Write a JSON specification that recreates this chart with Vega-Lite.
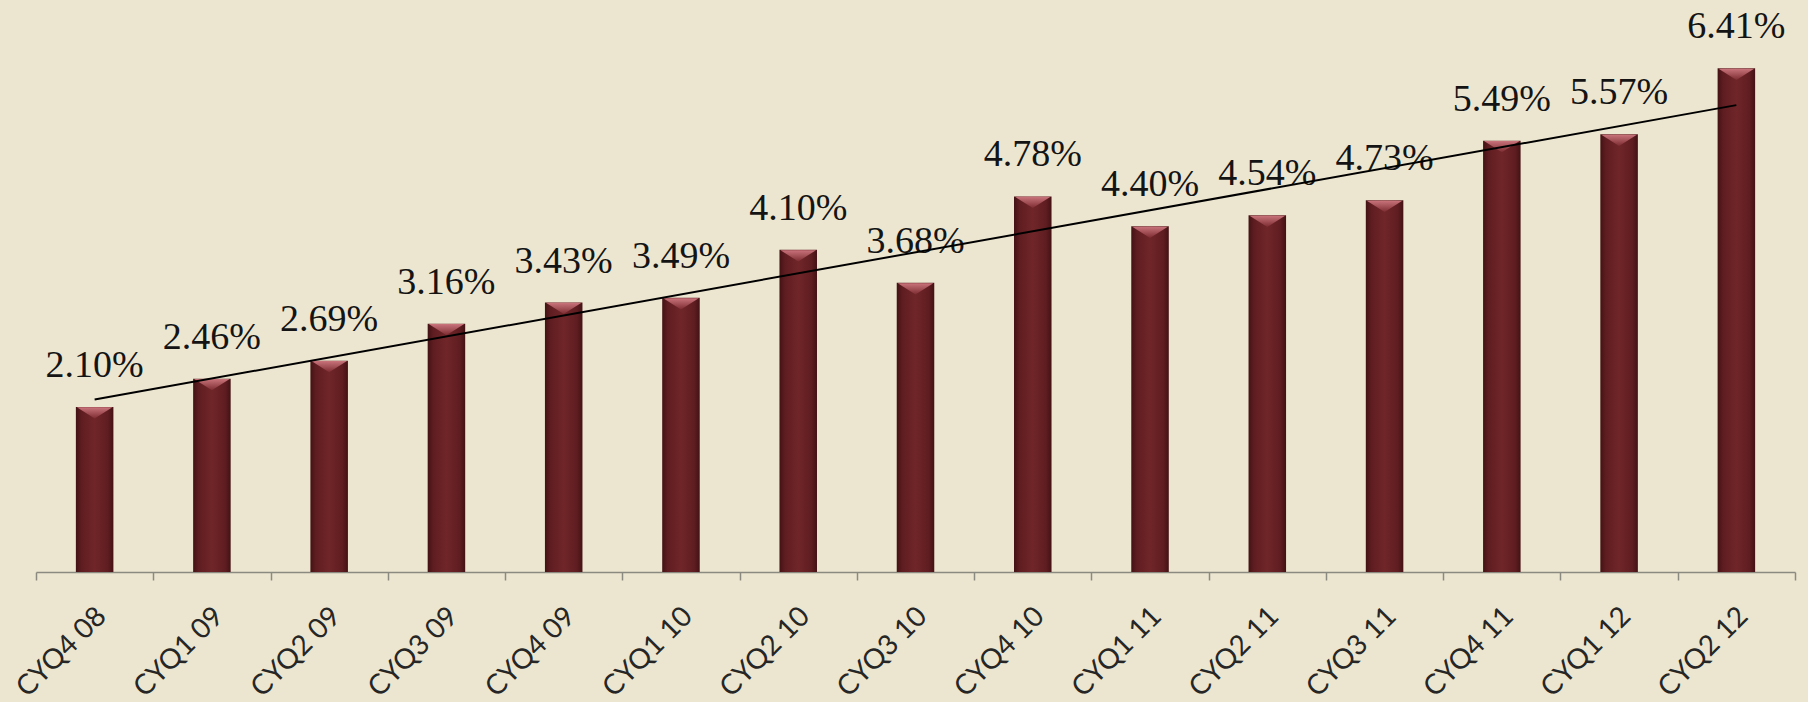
{
  "$schema": "https://vega.github.io/schema/vega-lite/v6.json",
  "autosize": {"type": "none"},
  "padding": {"left": 36, "top": 22, "right": 13, "bottom": 130},
  "width": 1759,
  "height": 550,
  "background": "#ECE6D0",
  "config": {"view": {"stroke": null}},
  "data": {"values": [
    {"i": 0, "quarter": "CYQ4 08", "value": 0.0210},
    {"i": 1, "quarter": "CYQ1 09", "value": 0.0246},
    {"i": 2, "quarter": "CYQ2 09", "value": 0.0269},
    {"i": 3, "quarter": "CYQ3 09", "value": 0.0316},
    {"i": 4, "quarter": "CYQ4 09", "value": 0.0343},
    {"i": 5, "quarter": "CYQ1 10", "value": 0.0349},
    {"i": 6, "quarter": "CYQ2 10", "value": 0.0410},
    {"i": 7, "quarter": "CYQ3 10", "value": 0.0368},
    {"i": 8, "quarter": "CYQ4 10", "value": 0.0478},
    {"i": 9, "quarter": "CYQ1 11", "value": 0.0440},
    {"i": 10, "quarter": "CYQ2 11", "value": 0.0454},
    {"i": 11, "quarter": "CYQ3 11", "value": 0.0473},
    {"i": 12, "quarter": "CYQ4 11", "value": 0.0549},
    {"i": 13, "quarter": "CYQ1 12", "value": 0.0557},
    {"i": 14, "quarter": "CYQ2 12", "value": 0.0641}
  ]},
  "resolve": {"scale": {"x": "independent"}},
  "layer": [
    {
      "encoding": {
        "x": {
          "field": "quarter", "type": "nominal", "sort": null,
          "scale": {"paddingInner": 0, "paddingOuter": 0},
          "axis": {
            "title": null,
            "labelAngle": -45,
            "labelFont": "Lato",
            "labelFontSize": 28,
            "labelColor": "#262626",
            "labelPadding": 22,
            "labelOffset": -3,
            "domainColor": "#8a8a80",
            "domainWidth": 1.5,
            "tickColor": "#8a8a80",
            "tickWidth": 1.5,
            "tickSize": 8,
            "tickBand": "extent"
          }
        },
        "y": {"field": "value", "type": "quantitative", "scale": {"domain": [0, 0.07]}, "axis": null}
      },
      "layer": [
        {
          "mark": {
            "type": "bar",
            "width": {"band": 0.32},
            "fill": {
              "gradient": "linear", "x1": 0, "x2": 1, "y1": 0, "y2": 0,
              "stops": [
                {"offset": 0, "color": "#431214"},
                {"offset": 0.15, "color": "#5f1d21"},
                {"offset": 0.5, "color": "#702629"},
                {"offset": 0.85, "color": "#5f1d21"},
                {"offset": 1, "color": "#431214"}
              ]
            }
          }
        },
        {
          "mark": {
            "type": "point",
            "filled": true,
            "shape": "M -0.95 0.02 L 0.95 0.02 L 0 0.62 Z",
            "size": 1400,
            "opacity": 1,
            "strokeWidth": 0,
            "fill": {
              "gradient": "linear", "x1": 0, "x2": 0, "y1": 0, "y2": 1,
              "stops": [
                {"offset": 0, "color": "#c9737b"},
                {"offset": 1, "color": "#7c2c31"}
              ]
            }
          }
        },
        {
          "mark": {
            "type": "text",
            "font": "Liberation Serif",
            "fontSize": 38,
            "color": "#141414",
            "baseline": "alphabetic",
            "dy": -30
          },
          "encoding": {"text": {"field": "value", "type": "quantitative", "format": ".2%"}}
        }
      ]
    },
    {
      "mark": {"type": "line", "color": "#000000", "strokeWidth": 2},
      "transform": [{"regression": "value", "on": "i"}],
      "encoding": {
        "x": {"field": "i", "type": "quantitative", "scale": {"domain": [-0.5, 14.5], "nice": false, "zero": false}, "axis": null},
        "y": {"field": "value", "type": "quantitative", "scale": {"domain": [0, 0.07]}, "axis": null}
      }
    }
  ]
}
